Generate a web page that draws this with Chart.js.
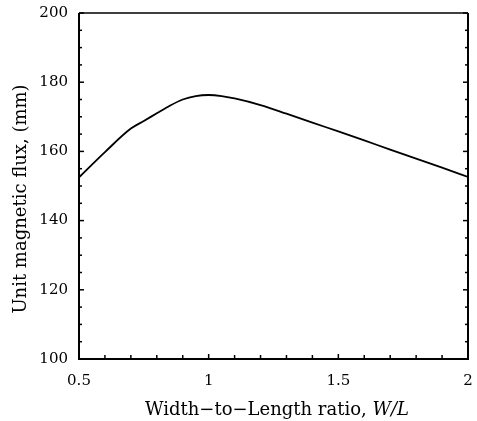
<!DOCTYPE html>
<html>
<head>
<meta charset="utf-8">
<script src="https://cdn.jsdelivr.net/npm/chart.js@4.4.0/dist/chart.umd.min.js"></script>
<style>
html,body{margin:0;padding:0;background:#fff;}
#wrap{width:477px;height:421px;position:relative;}
</style>
</head>
<body>
<div id="wrap"><canvas id="c" width="477" height="421"></canvas></div>
<script>
const ratioWL = [0.5, 0.6, 0.7, 0.75, 0.8, 0.85, 0.9, 0.95, 1.0, 1.05, 1.1, 1.2, 1.3, 1.4, 1.5, 1.6, 1.7, 1.8, 1.9, 2.0];
const unitFlux = [152.5, 159.8, 166.6, 168.8, 171.0, 173.2, 175.0, 176.0, 176.3, 176.0, 175.3, 173.4, 170.9, 168.3, 165.8, 163.2, 160.5, 157.9, 155.3, 152.6];
const xTickLabels = ['0.5', '1', '1.5', '2'];
const yTickLabels = ['100', '120', '140', '160', '180', '200'];
const xTitleMain = 'Width\u2212to\u2212Length ratio, ';
const xTitleItalic = 'W/L';
const yTitle = 'Unit magnetic flux, (mm)';

const FONT = '"DejaVu Serif", serif';

const framePlugin = {
  id: 'frame',
  afterDraw(chart) {
    const ctx = chart.ctx;
    const a = chart.chartArea;
    const xs = chart.scales.x, ys = chart.scales.y;
    ctx.save();
    ctx.strokeStyle = '#000';
    ctx.lineWidth = 2;
    ctx.beginPath();
    ctx.moveTo(a.left, a.top); ctx.lineTo(a.left, a.bottom); ctx.lineTo(a.right, a.bottom); ctx.lineTo(a.right, a.top);
    ctx.stroke();
    ctx.lineWidth = 1.5;
    ctx.beginPath(); ctx.moveTo(a.left, a.top); ctx.lineTo(a.right, a.top); ctx.stroke();
    for (let i = 0; i <= 15; i++) {
      const v = 0.5 + i * 0.1;
      const px = xs.getPixelForValue(v);
      const len = (i % 5 === 0) ? 5 : 4;
      ctx.beginPath(); ctx.moveTo(px, a.bottom); ctx.lineTo(px, a.bottom - len); ctx.stroke();
    }
    for (let v = 100; v <= 200; v += 5) {
      const py = ys.getPixelForValue(v);
      const len = (v % 20 === 0) ? 5 : 3;
      ctx.beginPath(); ctx.moveTo(a.left, py); ctx.lineTo(a.left + len, py); ctx.stroke();
      ctx.beginPath(); ctx.moveTo(a.right, py); ctx.lineTo(a.right - len, py); ctx.stroke();
    }
    // tick labels
    ctx.fillStyle = '#000';
    ctx.font = '15px ' + FONT;
    ctx.textBaseline = 'middle';
    ctx.textAlign = 'right';
    yTickLabels.forEach(t => { ctx.fillText(t, a.left - 11, ys.getPixelForValue(parseFloat(t))); });
    ctx.textAlign = 'center';
    xTickLabels.forEach(t => { ctx.fillText(t, xs.getPixelForValue(parseFloat(t)), a.bottom + 22); });
    // titles
    const fs = 18;
    ctx.font = fs + 'px ' + FONT;
    const w1 = ctx.measureText(xTitleMain).width;
    ctx.font = 'italic ' + fs + 'px ' + FONT;
    const w2 = ctx.measureText(xTitleItalic).width;
    const cx = 277;
    const sx = cx - (w1 + w2) / 2;
    const ty = 410;
    ctx.textAlign = 'left';
    ctx.font = fs + 'px ' + FONT;
    ctx.fillText(xTitleMain, sx, ty);
    ctx.font = 'italic ' + fs + 'px ' + FONT;
    ctx.fillText(xTitleItalic, sx + w1, ty);
    ctx.translate(21, 199);
    ctx.rotate(-Math.PI / 2);
    ctx.textAlign = 'center';
    ctx.font = fs + 'px ' + FONT;
    ctx.fillText(yTitle, 0, 0);
    ctx.restore();
  }
};

new Chart(document.getElementById('c'), {
  type: 'line',
  data: {
    datasets: [{
      data: ratioWL.map((x, i) => ({x: x, y: unitFlux[i]})),
      borderColor: '#000',
      borderWidth: 1.8,
      pointRadius: 0,
      tension: 0.3,
      cubicInterpolationMode: 'monotone',
      fill: false
    }]
  },
  options: {
    responsive: false,
    animation: false,
    devicePixelRatio: 1,
    layout: { padding: { left: 0, right: 9, top: 13, bottom: 0 } },
    plugins: { legend: { display: false }, tooltip: { enabled: false } },
    scales: {
      x: {
        type: 'linear',
        min: 0.5, max: 2,
        ticks: { display: false },
        grid: { display: false, drawTicks: false },
        border: { display: false },
        afterFit: s => { s.height = 421 - 359; }
      },
      y: {
        type: 'linear',
        min: 100, max: 200,
        ticks: { display: false },
        grid: { display: false, drawTicks: false },
        border: { display: false },
        afterFit: s => { s.width = 79; }
      }
    }
  },
  plugins: [framePlugin]
});
</script>
</body>
</html>
